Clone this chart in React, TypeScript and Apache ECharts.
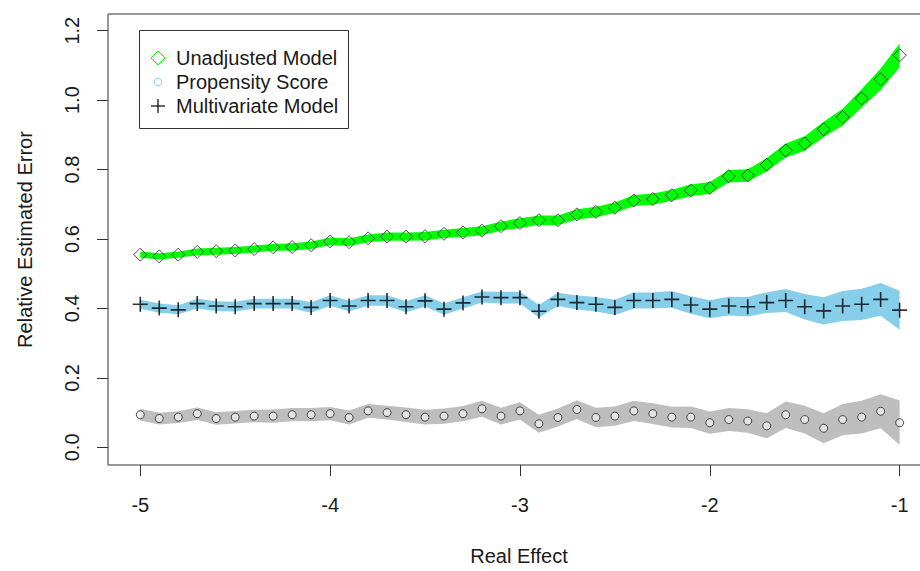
import React, { useEffect, useRef } from "react";
import * as echarts from "echarts";

const realEffect = [
  -5.0, -4.9, -4.8, -4.7, -4.6, -4.5, -4.4, -4.3, -4.2, -4.1,
  -4.0, -3.9, -3.8, -3.7, -3.6, -3.5, -3.4, -3.3, -3.2, -3.1,
  -3.0, -2.9, -2.8, -2.7, -2.6, -2.5, -2.4, -2.3, -2.2, -2.1,
  -2.0, -1.9, -1.8, -1.7, -1.6, -1.5, -1.4, -1.3, -1.2, -1.1,
  -1.0,
];

const unadjusted = [
  0.555, 0.550, 0.555, 0.563, 0.565, 0.567, 0.571, 0.576, 0.577, 0.582,
  0.593, 0.591, 0.602, 0.607, 0.607, 0.608, 0.615, 0.619, 0.624, 0.637,
  0.646, 0.654, 0.654, 0.671, 0.678, 0.690, 0.711, 0.715, 0.726, 0.740,
  0.747, 0.781, 0.783, 0.814, 0.855, 0.875, 0.916, 0.951, 1.005, 1.060,
  1.129,
];
const unadjustedHalf = [
  0.009, 0.009, 0.009, 0.010, 0.010, 0.010, 0.010, 0.010, 0.011, 0.011,
  0.011, 0.011, 0.011, 0.012, 0.012, 0.012, 0.012, 0.013, 0.013, 0.013,
  0.014, 0.014, 0.014, 0.015, 0.015, 0.015, 0.016, 0.016, 0.016, 0.017,
  0.017, 0.018, 0.018, 0.019, 0.020, 0.021, 0.022, 0.024, 0.026, 0.031,
  0.034,
];

const multivariate = [
  0.412, 0.401, 0.396, 0.414, 0.407, 0.405, 0.414, 0.414, 0.414, 0.403,
  0.423, 0.407, 0.423, 0.423, 0.405, 0.422, 0.398, 0.416, 0.433, 0.431,
  0.431, 0.392, 0.426, 0.417, 0.412, 0.403, 0.423, 0.423, 0.426, 0.410,
  0.398, 0.407, 0.405, 0.417, 0.423, 0.405, 0.393, 0.407, 0.412, 0.426,
  0.395,
];
const multivariateHalf = [
  0.013, 0.013, 0.013, 0.014, 0.014, 0.014, 0.014, 0.014, 0.014, 0.015,
  0.015, 0.015, 0.015, 0.015, 0.016, 0.016, 0.016, 0.016, 0.016, 0.017,
  0.017, 0.018, 0.019, 0.020, 0.021, 0.022, 0.023, 0.023, 0.024, 0.025,
  0.026, 0.027, 0.028, 0.030, 0.033, 0.037, 0.039, 0.043, 0.045, 0.047,
  0.056,
];

const propensity = [
  0.094, 0.083, 0.087, 0.097, 0.083, 0.087, 0.090, 0.090, 0.094, 0.094,
  0.097, 0.086, 0.105, 0.100, 0.094, 0.087, 0.090, 0.097, 0.111, 0.090,
  0.105, 0.068, 0.086, 0.109, 0.086, 0.090, 0.105, 0.097, 0.087, 0.087,
  0.071, 0.080, 0.076, 0.062, 0.094, 0.080, 0.055, 0.080, 0.087, 0.104,
  0.071,
];
const propensityHalf = [
  0.017, 0.017, 0.017, 0.018, 0.018, 0.018, 0.018, 0.019, 0.019, 0.019,
  0.019, 0.020, 0.020, 0.020, 0.021, 0.021, 0.022, 0.022, 0.023, 0.024,
  0.025, 0.026, 0.026, 0.027, 0.028, 0.028, 0.029, 0.030, 0.030, 0.031,
  0.032, 0.033, 0.034, 0.036, 0.038, 0.040, 0.043, 0.045, 0.047, 0.049,
  0.064,
];

const xTicks = [-5, -4, -3, -2, -1];
const yTicks = [0, 0.2, 0.4, 0.6, 0.8, 1.0, 1.2];
const legendNames = ["Unadjusted Model", "Propensity Score", "Multivariate Model"];
const xTitle = "Real Effect";
const yTitle = "Relative Estimated Error";

const FONT = "'Liberation Sans', Arial, Helvetica, sans-serif";
const INK = "#1a1a1a";
const PLUS_PATH =
  "path://M4.45,0H5.55V4.45H10V5.55H5.55V10H4.45V5.55H0V4.45H4.45Z";

// Band drawn as one polygon: lower edge left-to-right, upper edge right-to-left,
// every vertex placed through the cartesian coordinate system (api.coord).
function band(id: string, center: number[], half: number[], color: string) {
  return {
    type: "custom",
    name: id + "-band",
    data: [[realEffect[0], center[0]]],
    silent: true,
    z: 1,
    renderItem: (_params: any, api: any) => {
      const pts: number[][] = [];
      for (let i = 0; i < realEffect.length; i++) {
        pts.push(api.coord([realEffect[i], center[i] - half[i]]));
      }
      for (let i = realEffect.length - 1; i >= 0; i--) {
        pts.push(api.coord([realEffect[i], center[i] + half[i]]));
      }
      return {
        type: "polygon",
        shape: { points: pts },
        style: { fill: color, stroke: "none" },
      };
    },
  };
}

function points(values: number[]) {
  return realEffect.map((x, i) => [x, values[i]]);
}

export default function App() {
  const ref = useRef<HTMLDivElement>(null);

  useEffect(() => {
    if (!ref.current) return;
    const chart = echarts.init(ref.current, null, { renderer: "svg" });

    const legendRowY = [58, 82, 106];
    const symX = 158;
    const textX = 176;

    const option: any = {
      animation: false,
      backgroundColor: "#ffffff",
      textStyle: { fontFamily: FONT },
      grid: {
        left: 108,
        top: 14,
        right: 10,
        bottom: 97,
        show: true,
        borderColor: "#333333",
        borderWidth: 1,
        backgroundColor: "transparent",
        containLabel: false,
      },
      xAxis: {
        type: "value",
        min: -5.17,
        max: -0.84,
        splitLine: { show: false },
        axisLine: { show: false, onZero: false },
        axisTick: {
          show: true,
          customValues: xTicks,
          length: 11,
          inside: false,
          lineStyle: { color: "#333333", width: 1 },
        },
        axisLabel: {
          customValues: xTicks,
          fontSize: 20,
          color: INK,
          fontFamily: FONT,
          margin: 30,
          formatter: (v: number) => String(v),
        },
        name: xTitle,
        nameLocation: "middle",
        nameGap: 81,
        nameTextStyle: { fontSize: 20, color: INK, fontFamily: FONT },
      },
      yAxis: {
        type: "value",
        min: -0.0508,
        max: 1.248,
        splitLine: { show: false },
        axisLine: { show: false, onZero: false },
        axisTick: {
          show: true,
          customValues: yTicks,
          length: 11,
          inside: false,
          lineStyle: { color: "#333333", width: 1 },
        },
        axisLabel: {
          customValues: yTicks,
          fontSize: 20,
          color: INK,
          fontFamily: FONT,
          rotate: 90,
          margin: 26,
          formatter: (v: number) => v.toFixed(1),
        },
        name: yTitle,
        nameLocation: "middle",
        nameRotate: 90,
        nameGap: 73,
        nameTextStyle: { fontSize: 20, color: INK, fontFamily: FONT },
      },
      series: [
        band("unadjusted", unadjusted, unadjustedHalf, "#00ff00"),
        band("multivariate", multivariate, multivariateHalf, "#87ceeb"),
        band("propensity", propensity, propensityHalf, "#bebebe"),
        {
          type: "scatter",
          name: legendNames[0],
          data: points(unadjusted),
          symbol: "diamond",
          symbolSize: 13,
          itemStyle: { color: "rgba(0,0,0,0)", borderColor: "#222222", borderWidth: 1 },
          z: 3,
        },
        {
          type: "scatter",
          name: legendNames[2],
          data: points(multivariate),
          symbol: PLUS_PATH,
          symbolSize: 15,
          itemStyle: { color: "#000000" },
          z: 3,
        },
        {
          type: "scatter",
          name: legendNames[1],
          data: points(propensity),
          symbol: "circle",
          symbolSize: 8,
          itemStyle: { color: "#eeeeee", borderColor: "#222222", borderWidth: 1 },
          z: 3,
        },
      ],
      graphic: [
        {
          type: "rect",
          shape: { x: 139.5, y: 30.5, width: 209, height: 98 },
          style: { fill: "#ffffff", stroke: "#333333", lineWidth: 1 },
          z: 10,
        },
        {
          type: "polygon",
          shape: {
            points: [
              [symX, legendRowY[0] - 7],
              [symX + 7, legendRowY[0]],
              [symX, legendRowY[0] + 7],
              [symX - 7, legendRowY[0]],
            ],
          },
          style: { fill: "none", stroke: "#00ff00", lineWidth: 1 },
          z: 11,
        },
        {
          type: "circle",
          shape: { cx: symX, cy: legendRowY[1], r: 3.8 },
          style: { fill: "none", stroke: "#87ceeb", lineWidth: 1 },
          z: 11,
        },
        {
          type: "line",
          shape: { x1: symX - 7, y1: legendRowY[2], x2: symX + 7, y2: legendRowY[2] },
          style: { stroke: "#000000", lineWidth: 1.2 },
          z: 11,
        },
        {
          type: "line",
          shape: { x1: symX, y1: legendRowY[2] - 7, x2: symX, y2: legendRowY[2] + 7 },
          style: { stroke: "#000000", lineWidth: 1.2 },
          z: 11,
        },
        ...legendNames.map((name, i) => ({
          type: "text",
          x: textX,
          y: legendRowY[i],
          style: {
            text: name,
            fontSize: 20,
            fontFamily: FONT,
            fill: INK,
            textVerticalAlign: "middle",
            textAlign: "left",
          },
          z: 11,
        })),
      ],
    };

    chart.setOption(option);
    return () => chart.dispose();
  }, []);

  return (
    <div
      style={{
        position: "absolute",
        left: 0,
        top: 0,
        width: 920,
        height: 571,
        overflow: "hidden",
      }}
    >
      <div ref={ref} style={{ width: 940, height: 571 }} />
    </div>
  );
}
